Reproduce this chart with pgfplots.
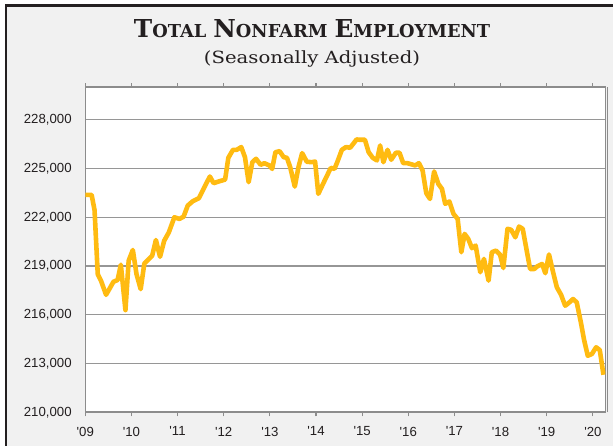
\documentclass[border=0pt]{standalone}
\usepackage{pgfplots}
\pgfplotsset{compat=1.18}
\usepackage{fontspec}
\setmainfont{Liberation Sans}
\newfontfamily\titlefont{DejaVu Serif}
\definecolor{gold}{RGB}{255,187,17}
\definecolor{bggray}{RGB}{241,241,241}
\definecolor{gridgray}{RGB}{150,150,150}
\definecolor{framegray}{RGB}{140,140,140}
\definecolor{darktext}{RGB}{35,31,32}
\newcommand\bigsc[2]{{\fontsize{24.7bp}{25bp}\selectfont #1}{\fontsize{17.8bp}{18bp}\selectfont #2}}
\begin{document}
\begin{tikzpicture}[x=1bp,y=1bp]
\useasboundingbox (0,0) rectangle (613,446);
\fill[white] (0,0) rectangle (613,446);
\fill[bggray] (6,0) rectangle (613,440.7);
\draw[line width=2.7bp, color=darktext] (6,0) -- (6,440.7) -- (613,440.7);
\node[anchor=base, inner sep=0pt, text=darktext] at (312,408.7)
  {\titlefont\bfseries\bigsc{T}{OTAL}\hspace{7bp}\bigsc{N}{ONFARM}\hspace{7bp}\bigsc{E}{MPLOYMENT}};
\node[anchor=base, inner sep=0pt, text=darktext] at (312,382.7)
  {\scalebox{1.17}[1]{\titlefont\fontsize{16.8bp}{17bp}\selectfont (Seasonally Adjusted)}};
\begin{axis}[
  at={(85.3bp,33.7bp)}, anchor=south west, scale only axis,
  width=520bp, height=325bp,
  xmin=2009, xmax=2020.27, ymin=210000, ymax=230000,
  scaled y ticks=false,
  xtick={2009,2010,2011,2012,2013,2014,2015,2016,2017,2018,2019,2020},
  xticklabels={\textquotesingle09,\textquotesingle10,\textquotesingle11,\textquotesingle12,\textquotesingle13,\textquotesingle14,\textquotesingle15,\textquotesingle16,\textquotesingle17,\textquotesingle18,\textquotesingle19,\textquotesingle20},
  ytick={210000,213000,216000,219000,222000,225000,228000},
  yticklabels={{210,000},{213,000},{216,000},{219,000},{222,000},{225,000},{228,000}},
  ymajorgrids, grid style={gridgray, line width=1.2bp},
  axis line style={framegray, line width=1.6bp},
  axis background/.style={fill=white},
  tick align=outside, major tick length=4bp,
  xtick style={framegray, line width=1.2bp},
  ytick style={draw=none},
  tick label style={font=\fontsize{13.2bp}{14bp}\selectfont, text=darktext},
  yticklabel style={anchor=east, inner sep=0pt, xshift=-9.5bp},
  xticklabel style={anchor=north, inner sep=0pt, yshift=-10.4bp},
]
\addplot[gold, line width=4.6bp, line join=round] coordinates {
(2009.00,223380) (2009.137,223380) (2009.20,222450) (2009.27,218500) (2009.34,218100)
(2009.45,217230) (2009.61,218030) (2009.70,218140) (2009.77,219080) (2009.87,216290)
(2009.94,219330) (2010.03,219990) (2010.11,218500) (2010.20,217580) (2010.28,219160)
(2010.45,219640) (2010.53,220600) (2010.62,219570) (2010.71,220560) (2010.81,221070)
(2010.93,222000) (2011.04,221900) (2011.13,222040) (2011.22,222720) (2011.33,222990)
(2011.46,223170) (2011.58,223850) (2011.70,224510) (2011.78,224100) (2011.91,224220)
(2012.03,224320) (2012.10,225660) (2012.20,226150) (2012.28,226150) (2012.38,226320)
(2012.46,225700) (2012.54,224160) (2012.62,225390) (2012.70,225600) (2012.80,225230)
(2012.88,225330) (2012.99,225190) (2013.05,224980) (2013.12,226000) (2013.21,226070)
(2013.30,225700) (2013.37,225660) (2013.44,225090) (2013.54,223890) (2013.62,225090)
(2013.70,225950) (2013.80,225420) (2013.91,225390) (2013.98,225430) (2014.05,223440)
(2014.17,224160) (2014.32,225040) (2014.40,224980) (2014.46,225390) (2014.56,226150)
(2014.65,226320) (2014.74,226280) (2014.88,226790) (2014.95,226770) (2015.06,226770)
(2015.14,226010) (2015.23,225660) (2015.32,225500) (2015.39,226420) (2015.46,225390)
(2015.55,226150) (2015.63,225540) (2015.73,225970) (2015.81,225970) (2015.89,225330)
(2015.98,225330) (2016.08,225250) (2016.15,225190) (2016.23,225330) (2016.31,224880)
(2016.39,223480) (2016.47,223130) (2016.56,224820) (2016.65,224060) (2016.73,223750)
(2016.80,222830) (2016.89,222970) (2016.98,222210) (2017.07,221900) (2017.15,219850)
(2017.22,220980) (2017.30,220670) (2017.38,220100) (2017.46,220260) (2017.56,218620)
(2017.64,219440) (2017.74,218100) (2017.81,219850) (2017.90,219950) (2017.99,219690)
(2018.06,218880) (2018.15,221290) (2018.23,221230) (2018.32,220770) (2018.40,221430)
(2018.48,221290) (2018.56,220050) (2018.64,218820) (2018.73,218820) (2018.80,218990)
(2018.90,219130) (2018.97,218560) (2019.05,219710) (2019.13,218720) (2019.22,217690)
(2019.31,217240) (2019.40,216560) (2019.47,216710) (2019.57,216970) (2019.65,216770)
(2019.74,215540) (2019.81,214450) (2019.89,213480) (2019.98,213590) (2020.07,214000)
(2020.15,213830) (2020.23,212310)
};
\end{axis}
\draw[framegray, line width=1.2bp] (607.2,33.7) -- (607.2,358.7);
\end{tikzpicture}
\end{document}
